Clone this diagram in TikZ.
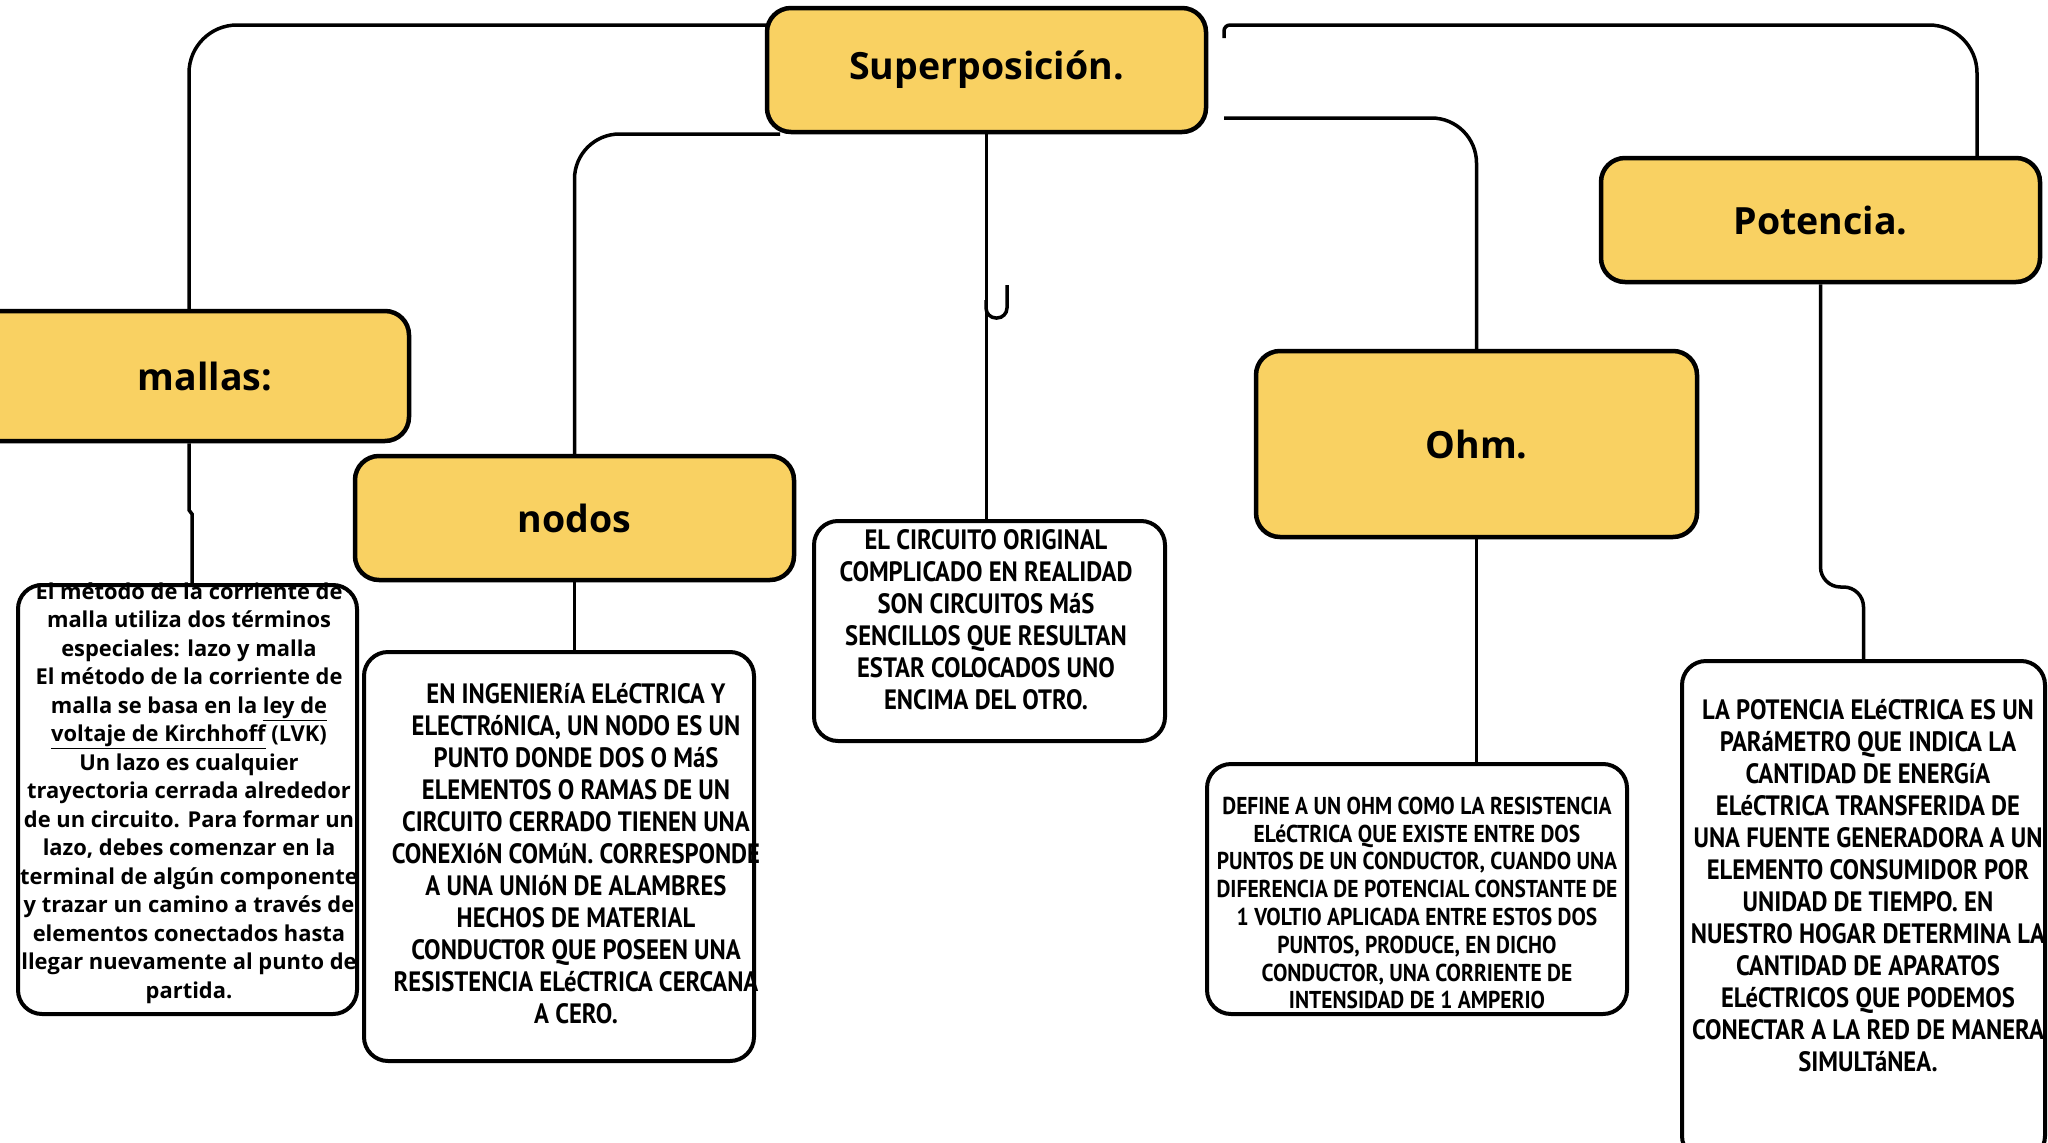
\documentclass[tikz,border=0pt]{standalone}
\usepackage{fontspec}
\setmainfont{Open Sans}
\newfontfamily\hand[FakeStretch=0.88]{PT Sans}
\usetikzlibrary{backgrounds}
\definecolor{ytitle}{HTML}{F9D162}
\begin{document}
\begin{tikzpicture}[x=1pt,y=-1pt,
  conn/.style={line width=3.5pt, draw=black},
  titlebox/.style={draw=black, line width=4.5pt, fill=ytitle, rounded corners=24pt,
    font=\bfseries\fontsize{37.5}{42}\selectfont, inner sep=0pt},
  textbox/.style={draw=black, line width=4pt, fill=white, rounded corners=24pt, inner sep=0pt},
  handtext/.style={font=\hand\bfseries\fontsize{28}{32}\selectfont, align=center, inner sep=0pt},
  smallhand/.style={font=\hand\bfseries\fontsize{24.4}{27.8}\selectfont, align=center, inner sep=0pt},
  boldtext/.style={font=\bfseries\fontsize{21.9}{28.5}\selectfont, align=center, inner sep=0pt}
]
\useasboundingbox (0,0) rectangle (2048,1143);
\clip (0,0) rectangle (2048,1143);

% title boxes
\node[titlebox, minimum width=439pt, minimum height=124pt] (sup) at (986.5,70) {Superposición.};
\node[titlebox, minimum width=470pt, minimum height=130pt] (mallas) at (174,376) {\hspace*{62pt}mallas:};
\node[titlebox, minimum width=439pt, minimum height=124pt] (nodos) at (574.5,518) {nodos};
\node[titlebox, minimum width=441pt, minimum height=186pt] (ohm) at (1476.5,444) {Ohm.};
\node[titlebox, minimum width=439pt, minimum height=124pt] (pot) at (1820.5,220) {Potencia.};

% text boxes
\node[textbox, minimum width=339pt, minimum height=429pt] (tmallas) at (187.5,799.5) {};
\node[textbox, minimum width=390pt, minimum height=409pt] (tnodos) at (559,856.5) {};
\node[textbox, minimum width=351pt, minimum height=220pt] (tsup) at (989.5,631) {};
\node[textbox, minimum width=420pt, minimum height=250pt] (tohm) at (1417,889) {};
\node[textbox, minimum width=363pt, minimum height=499pt] (tpot) at (1863.5,910.5) {};

% texts
\node[boldtext] (xmallas) at (189,793) {El método de la corriente de\\
malla utiliza dos términos\\
especiales: lazo y malla\\
El método de la corriente de\\
malla se basa en la \underline{ley de}\\
\underline{voltaje de Kirchhoff} (LVK)\\
Un lazo es cualquier\\
trayectoria cerrada alrededor\\
de un circuito. Para formar un\\
lazo, debes comenzar en la\\
terminal de algún componente\\
y trazar un camino a través de\\
elementos conectados hasta\\
llegar nuevamente al punto de\\
partida.};

\node[handtext] (xnodos) at (576,854) {EN INGENIERíA ELéCTRICA Y\\
ELECTRóNICA, UN NODO ES UN\\
PUNTO DONDE DOS O MáS\\
ELEMENTOS O RAMAS DE UN\\
CIRCUITO CERRADO TIENEN UNA\\
CONEXIóN COMúN. CORRESPONDE\\
A UNA UNIóN DE ALAMBRES\\
HECHOS DE MATERIAL\\
CONDUCTOR QUE POSEEN UNA\\
RESISTENCIA ELéCTRICA CERCANA\\
A CERO.};

\node[handtext] (xsup) at (986,620) {EL CIRCUITO ORIGINAL\\
COMPLICADO EN REALIDAD\\
SON CIRCUITOS MáS\\
SENCILLOS QUE RESULTAN\\
ESTAR COLOCADOS UNO\\
ENCIMA DEL OTRO.};

\node[smallhand] (xohm) at (1417,903) {DEFINE A UN OHM COMO LA RESISTENCIA\\
ELéCTRICA QUE EXISTE ENTRE DOS\\
PUNTOS DE UN CONDUCTOR, CUANDO UNA\\
DIFERENCIA DE POTENCIAL CONSTANTE DE\\
1 VOLTIO APLICADA ENTRE ESTOS DOS\\
PUNTOS, PRODUCE, EN DICHO\\
CONDUCTOR, UNA CORRIENTE DE\\
INTENSIDAD DE 1 AMPERIO};

\node[handtext] (xpot) at (1868,886) {LA POTENCIA ELéCTRICA ES UN\\
PARáMETRO QUE INDICA LA\\
CANTIDAD DE ENERGíA\\
ELéCTRICA TRANSFERIDA DE\\
UNA FUENTE GENERADORA A UN\\
ELEMENTO CONSUMIDOR POR\\
UNIDAD DE TIEMPO. EN\\
NUESTRO HOGAR DETERMINA LA\\
CANTIDAD DE APARATOS\\
ELéCTRICOS QUE PODEMOS\\
CONECTAR A LA RED DE MANERA\\
SIMULTáNEA.};

% connectors
\coordinate (a1) at (189,25);
\coordinate (m0) at (189,510);
\coordinate (m1) at (192,514);
\coordinate (b0) at (780,134);
\coordinate (c0) at (1224,38);
\coordinate (c1) at (1224,25);
\coordinate (c2) at (1977,25);
\coordinate (d0) at (1224,118);
\coordinate (p1) at (1821,587);
\begin{scope}[on background layer]
\draw[conn, rounded corners=48pt] (sup.center |- a1) -| (mallas.north -| a1);
\draw[conn, rounded corners=45pt] (b0) -| (nodos.north);
\draw[conn] (c0) [rounded corners=6pt]-- (c1) [rounded corners=48pt]-- (c2) -- (pot.north -| c2);
\draw[conn, rounded corners=45pt] (d0) -| (ohm.north);
\draw[conn] (sup.south) -- (sup.south |- tsup.north);
\draw[conn, rounded corners=10pt] (1007,285) -- (1007,318) -- (986,318) -- (986,300);
\draw[conn] (mallas.south -| a1) -- (m0) -- (m1) -- (tmallas.north -| m1);
\draw[conn] (nodos.south) -- (nodos.south |- tnodos.north);
\draw[conn] (ohm.south) -- (ohm.south |- tohm.north);
\draw[conn, rounded corners=20pt] (pot.south) -- (pot.south |- p1) -- (tpot.north |- p1) -- (tpot.north);
\end{scope}
\end{tikzpicture}
\end{document}
